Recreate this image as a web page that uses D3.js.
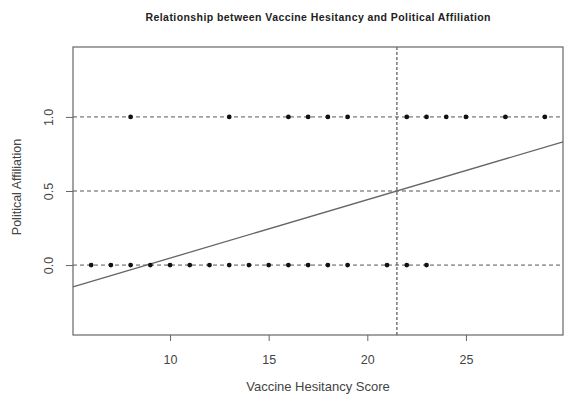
<!DOCTYPE html>
<html><head><meta charset="utf-8">
<script src="https://cdn.jsdelivr.net/npm/d3@7"></script>
<style>body{margin:0;background:#fff}svg{display:block}text{font-family:"Liberation Sans",Arial,sans-serif}</style>
</head><body>
<svg id="c" width="565" height="398"></svg>
<script>
const scoresAffil1 = [8,13,16,17,18,19,22,23,24,25,27,29];
const scoresAffil0 = [6,7,8,9,10,11,12,13,14,15,16,17,18,19,21,22,23];
const xTicks = [10,15,20,25];
const yTicks = [0,0.5,1];
const yTickLabels = ["0.0","0.5","1.0"];
const hLines = [0,0.5,1];
const vLine = [21.5];
const fitLine = {intercept:-0.347, slope:0.0394};
const xDomain = [5.08,29.92];
const yDomain = [-0.472,1.472];

const svg = d3.select("#c");
const m = {l:73,r:563,t:47,b:335};
const x = d3.scaleLinear().domain(xDomain).range([m.l,m.r]);
const y = d3.scaleLinear().domain(yDomain).range([m.b,m.t]);
const axCol = "#666", txtCol = "#444";

svg.append("text").attr("x",(m.l+m.r)/2).attr("y",21).attr("text-anchor","middle")
  .attr("font-size",10.5).attr("font-weight","bold").attr("fill","#222")
  .attr("textLength",345).attr("lengthAdjust","spacing")
  .text("Relationship between Vaccine Hesitancy and Political Affiliation");

const g = svg.append("g");
g.selectAll(".h").data(hLines).join("line")
  .attr("x1",m.l).attr("x2",m.r).attr("y1",d=>y(d)).attr("y2",d=>y(d))
  .attr("stroke","#555").attr("stroke-width",1).attr("stroke-dasharray","4,3");
g.selectAll(".v").data(vLine).join("line")
  .attr("x1",d=>x(d)).attr("x2",d=>x(d)).attr("y1",m.t).attr("y2",m.b)
  .attr("stroke","#555").attr("stroke-width",1.2).attr("stroke-dasharray","3,2");
g.append("line")
  .attr("x1",x(xDomain[0])).attr("y1",y(fitLine.intercept+fitLine.slope*xDomain[0]))
  .attr("x2",x(xDomain[1])).attr("y2",y(fitLine.intercept+fitLine.slope*xDomain[1]))
  .attr("stroke","#666").attr("stroke-width",1.3);
g.selectAll(".p1").data(scoresAffil1).join("circle")
  .attr("cx",d=>x(d)).attr("cy",y(1)).attr("r",2.4).attr("fill","#111");
g.selectAll(".p0").data(scoresAffil0).join("circle")
  .attr("cx",d=>x(d)).attr("cy",y(0)).attr("r",2.4).attr("fill","#111");
svg.append("rect").attr("x",m.l).attr("y",m.t).attr("width",m.r-m.l).attr("height",m.b-m.t)
  .attr("fill","none").attr("stroke",axCol).attr("stroke-width",1.2);
const xa = svg.append("g").attr("transform",`translate(0,${m.b})`)
  .call(d3.axisBottom(x).tickValues(xTicks).tickSize(6).tickPadding(14).tickFormat(d3.format("d")));
xa.select(".domain").remove();
xa.selectAll("line").attr("stroke",axCol);
xa.selectAll("text").attr("font-size",12.5).attr("fill",txtCol).attr("font-family","Liberation Sans, Arial, sans-serif");
const ya = svg.append("g").attr("transform",`translate(${m.l},0)`)
  .call(d3.axisLeft(y).tickValues(yTicks).tickSize(7).tickFormat((d,i)=>yTickLabels[i]));
ya.select(".domain").remove();
ya.selectAll("line").attr("stroke",axCol);
ya.selectAll("text").attr("font-size",12.5).attr("fill",txtCol).attr("font-family","Liberation Sans, Arial, sans-serif")
  .each(function(){
    d3.select(this).attr("x",null).attr("text-anchor","middle")
      .attr("transform",`translate(-24,0) rotate(-90)`).attr("dy","0.35em");
  });
svg.append("text").attr("x",(m.l+m.r)/2).attr("y",391).attr("text-anchor","middle")
  .attr("font-size",13).attr("fill",txtCol).text("Vaccine Hesitancy Score");
svg.append("text").attr("transform",`translate(21,${187}) rotate(-90)`).attr("text-anchor","middle")
  .attr("font-size",12.5).attr("fill",txtCol).text("Political Affiliation");
</script>
</body></html>
